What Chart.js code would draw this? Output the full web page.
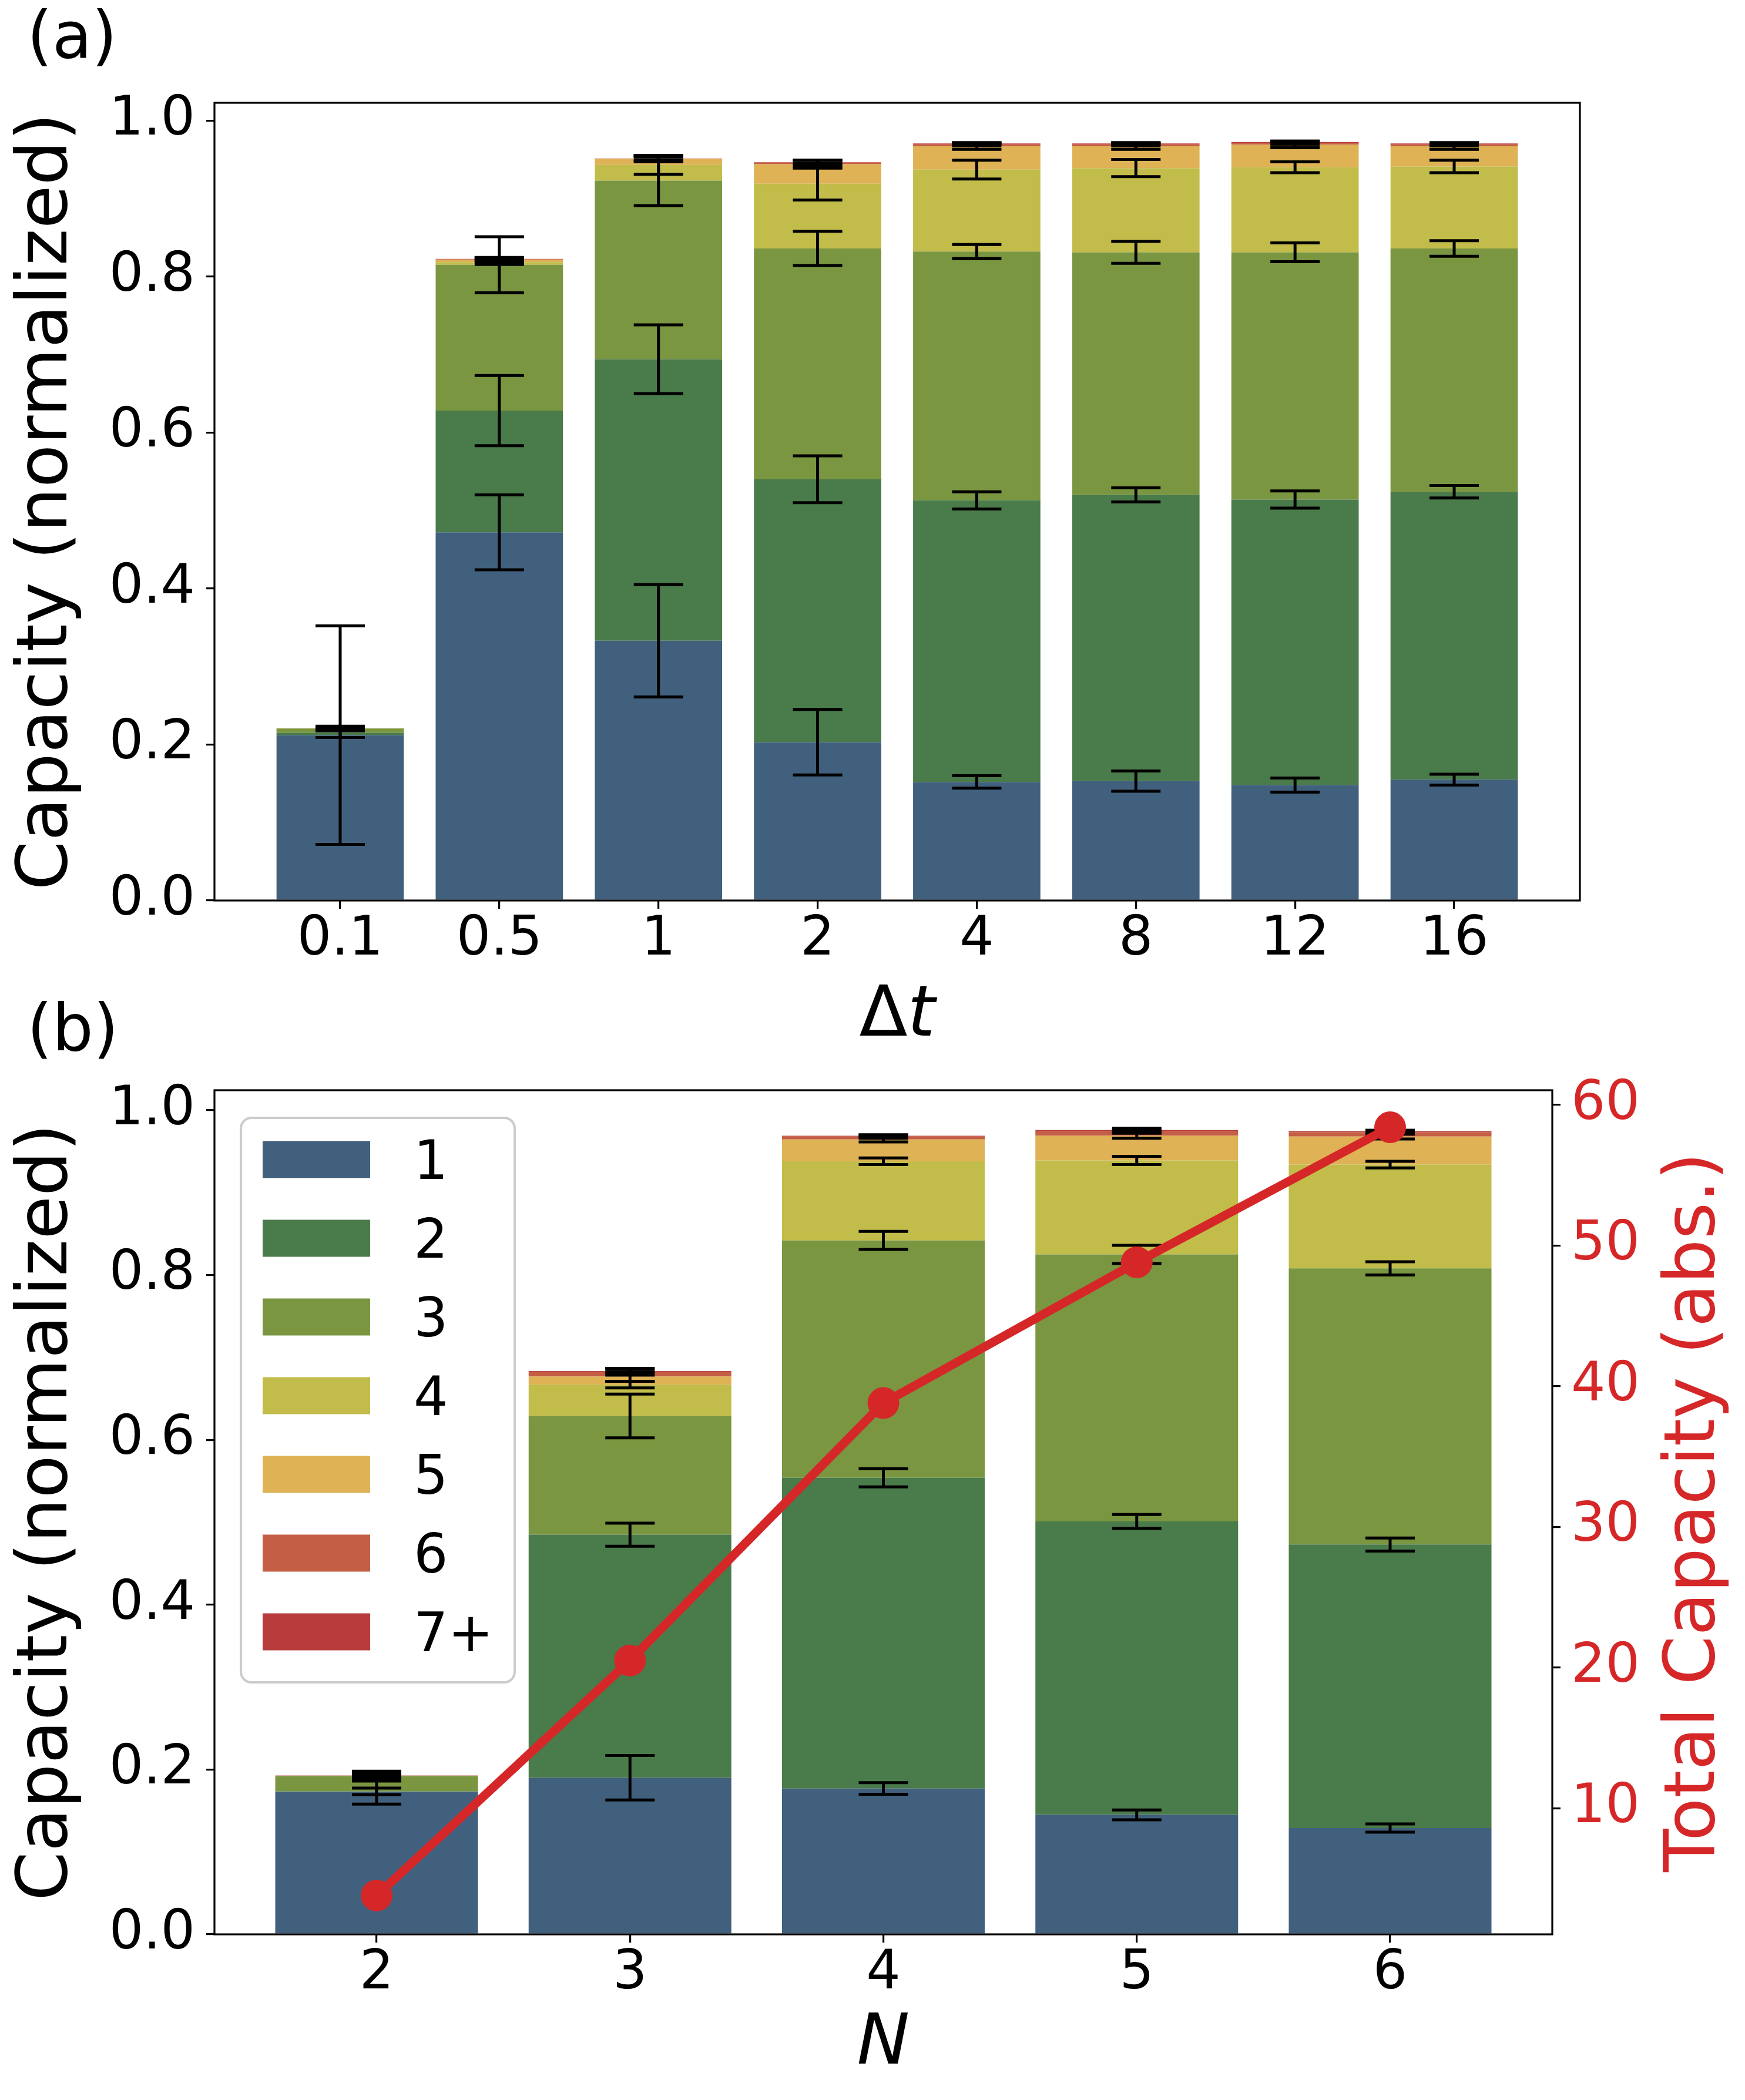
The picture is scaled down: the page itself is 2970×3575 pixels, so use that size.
<!DOCTYPE html>
<html><head><meta charset="utf-8">
<script src="https://cdn.jsdelivr.net/npm/chart.js@4.4.1/dist/chart.umd.min.js"></script>
<style>
html,body{margin:0;padding:0;background:#fff;}
body{width:2970px;height:3575px;position:relative;overflow:hidden;}
canvas{position:absolute;left:0;}
#c1{top:0;}
#c2{top:1640px;}
</style></head>
<body>
<canvas id="c1" width="2970" height="1790"></canvas>
<canvas id="c2" width="2970" height="1935"></canvas>
<script>
// ---------- DATA ----------
const dtLabels = ['0.1','0.5','1','2','4','8','12','16'];
const nLabels = ['2','3','4','5','6'];
const orderLabels = ['1','2','3','4','5','6','7+'];
const capTicks = [0, 0.2, 0.4, 0.6, 0.8, 1.0];
const totalTicks = [10, 20, 30, 40, 50, 60];

// panel (a): segment heights per order
const dtOrder1 = [0.212, 0.472, 0.333, 0.203, 0.152, 0.153, 0.148, 0.155];
const dtOrder2 = [0.003, 0.156, 0.361, 0.337, 0.361, 0.367, 0.366, 0.369];
const dtOrder3 = [0.0055, 0.187, 0.229, 0.296, 0.319, 0.311, 0.317, 0.312];
const dtOrder4 = [0.0002, 0.0035, 0.020, 0.083, 0.105, 0.108, 0.109, 0.105];
const dtOrder5 = [0.0002, 0.003, 0.008, 0.025, 0.030, 0.028, 0.029, 0.026];
const dtOrder6 = [0.0001, 0.0007, 0.0002, 0.0022, 0.0025, 0.0025, 0.0025, 0.0025];
const dtOrder7 = [0.0001, 0.0004, 0.0002, 0.0005, 0.001, 0.001, 0.001, 0.001];
// panel (a): error half-widths (at cumulative top of each order)
const dtErr1 = [0.140, 0.048, 0.072, 0.042, 0.008, 0.013, 0.009, 0.007];
const dtErr2 = [0.006, 0.045, 0.044, 0.030, 0.011, 0.009, 0.011, 0.008];
const dtErr3 = [0.003, 0.036, 0.032, 0.022, 0.009, 0.014, 0.012, 0.010];
const dtErr4 = [0.002, 0.003, 0.012, 0.021, 0.012, 0.011, 0.007, 0.008];
const dtErr5 = [0.001, 0.003, 0.004, 0.005, 0.004, 0.004, 0.004, 0.004];
const dtErr6 = [0.001, 0.002, 0.003, 0.003, 0.002, 0.002, 0.002, 0.002];
const dtErr7 = [0.0005, 0.001, 0.002, 0.002, 0.001, 0.001, 0.001, 0.001];

// panel (b): segment heights per order
const nOrder1 = [0.173, 0.190, 0.177, 0.145, 0.129];
const nOrder2 = [0.0005, 0.295, 0.377, 0.356, 0.344];
const nOrder3 = [0.0185, 0.144, 0.288, 0.324, 0.335];
const nOrder4 = [0.0002, 0.038, 0.096, 0.114, 0.126];
const nOrder5 = [0.0003, 0.010, 0.0265, 0.030, 0.034];
const nOrder6 = [0.0002, 0.0056, 0.0035, 0.0055, 0.0055];
const nOrder7 = [0.0001, 0.0009, 0.001, 0.0015, 0.001];
const nErr1 = [0.015, 0.027, 0.007, 0.006, 0.005];
const nErr2 = [0.004, 0.014, 0.011, 0.0085, 0.008];
const nErr3 = [0.006, 0.0265, 0.011, 0.011, 0.008];
const nErr4 = [0.003, 0.004, 0.004, 0.005, 0.004];
const nErr5 = [0.002, 0.006, 0.003, 0.003, 0.003];
const nErr6 = [0.001, 0.004, 0.002, 0.002, 0.002];
const nErr7 = [0.001, 0.003, 0.001, 0.002, 0.001];
// panel (b): total capacity (absolute, right axis)
const totalCapacity = [3.8, 20.5, 38.8, 48.8, 58.4];

// ---------- STYLE ----------
const FONT = 'DejaVu Sans';
const palette = ['#41607d', '#4a7b4a', '#7a9640', '#c2bc4a', '#deb255', '#c45e44', '#b83c3c'];
const RED = '#d62728';

const dtSeries = [dtOrder1, dtOrder2, dtOrder3, dtOrder4, dtOrder5, dtOrder6, dtOrder7];
const dtErrors = [dtErr1, dtErr2, dtErr3, dtErr4, dtErr5, dtErr6, dtErr7];
const nSeries = [nOrder1, nOrder2, nOrder3, nOrder4, nOrder5, nOrder6, nOrder7];
const nErrors = [nErr1, nErr2, nErr3, nErr4, nErr5, nErr6, nErr7];

function barSets(series, order) {
  return series.map((arr, k) => ({
    type: 'bar',
    label: orderLabels[k],
    data: arr.map((v, i) => ({x: i, y: v})),
    backgroundColor: palette[k],
    borderWidth: 0,
    barPercentage: 0.8,
    categoryPercentage: 1.0,
    order: order,
    yAxisID: 'y'
  }));
}

const errPlugin = {
  id: 'errbars',
  afterDatasetDraw(chart, args, opts) {
    if (args.index !== 0 || !opts.errors) return;
    const ctx = chart.ctx, ys = chart.scales.y, xs = chart.scales.x;
    const errs = opts.errors;
    ctx.save();
    ctx.strokeStyle = '#000';
    ctx.lineWidth = 5;
    ctx.lineCap = 'butt';
    const nCat = chart.data.datasets[0].data.length;
    for (let i = 0; i < nCat; i++) {
      let cum = 0;
      const x = xs.getPixelForValue(i);
      for (let d = 0; d < errs.length; d++) {
        cum += chart.data.datasets[d].data[i].y;
        const e = errs[d][i];
        const yT = ys.getPixelForValue(cum + e), yB = ys.getPixelForValue(cum - e);
        ctx.beginPath();
        ctx.moveTo(x, yT); ctx.lineTo(x, yB);
        ctx.moveTo(x - 42, yT); ctx.lineTo(x + 42, yT);
        ctx.moveTo(x - 42, yB); ctx.lineTo(x + 42, yB);
        ctx.stroke();
      }
    }
    ctx.restore();
  }
};

const decorPlugin = {
  id: 'decor',
  afterDraw(chart, args, o) {
    const ctx = chart.ctx, ca = chart.chartArea;
    ctx.save();
    // frame
    ctx.strokeStyle = '#000';
    ctx.lineWidth = 3.2;
    ctx.strokeRect(ca.left, ca.top, ca.right - ca.left, ca.bottom - ca.top);
    // panel letter
    ctx.fillStyle = '#000';
    ctx.font = '110px "' + FONT + '"';
    ctx.textAlign = 'left';
    ctx.textBaseline = 'alphabetic';
    ctx.fillText(o.panel, 46, o.panelY);
    // Δt title
    if (o.xTitleY) {
      const f1 = '120px "' + FONT + '"', f2 = 'italic 120px "' + FONT + '"';
      ctx.font = f1; const w1 = ctx.measureText('Δ').width;
      ctx.font = f2; const w2 = ctx.measureText('t').width;
      const cx = (ca.left + ca.right) / 2;
      let x0 = cx - (w1 + w2) / 2;
      ctx.font = f1; ctx.fillText('Δ', x0, o.xTitleY);
      ctx.font = f2; ctx.fillText('t', x0 + w1, o.xTitleY);
    }
    // right title
    if (o.rightTitle) {
      ctx.save();
      ctx.translate(o.rightTitleX, (ca.top + ca.bottom) / 2);
      ctx.rotate(-Math.PI / 2);
      ctx.font = '120px "' + FONT + '"';
      ctx.fillStyle = RED;
      ctx.textAlign = 'center';
      ctx.textBaseline = 'alphabetic';
      ctx.fillText(o.rightTitle, 0, 0);
      ctx.restore();
    }
    // legend
    if (o.legend) {
      const L = o.legend;
      ctx.fillStyle = 'rgba(255,255,255,0.8)';
      ctx.strokeStyle = '#cccccc';
      ctx.lineWidth = 4;
      ctx.beginPath();
      if (ctx.roundRect) ctx.roundRect(L.x, L.y, L.w, L.h, 18); else ctx.rect(L.x, L.y, L.w, L.h);
      ctx.fill(); ctx.stroke();
      const bars = chart.data.datasets.filter(d => d.type === 'bar');
      ctx.font = '92px "' + FONT + '"';
      ctx.textAlign = 'left';
      ctx.textBaseline = 'alphabetic';
      bars.forEach((ds, i) => {
        const cy = L.row0 + i * L.step;
        ctx.fillStyle = ds.backgroundColor;
        ctx.fillRect(L.x + 37, cy - 31.5, 183, 63);
        ctx.fillStyle = '#000';
        ctx.fillText(ds.label, L.x + 294, cy + 33);
      });
    }
    ctx.restore();
  }
};

const tickFont = {family: FONT, size: 92, lineHeight: 1};
const gridOpts = {display: true, offset: false, drawOnChartArea: false, drawTicks: true, tickLength: 14, color: '#000', lineWidth: 3.2};

// ---------- CHART (a) ----------
new Chart(document.getElementById('c1'), {
  type: 'bar',
  data: {datasets: barSets(dtSeries, 0)},
  options: {
    responsive: false, animation: false, devicePixelRatio: 1,
    layout: {padding: {left: 0, right: 281, top: 175, bottom: 0}},
    plugins: {
      legend: {display: false}, tooltip: {enabled: false},
      errbars: {errors: dtErrors},
      decor: {panel: '(a)', panelY: 98, xTitleY: 1763}
    },
    scales: {
      x: {
        type: 'linear', stacked: true, min: -0.79, max: 7.79, offset: false,
        afterBuildTicks: s => { s.ticks = dtLabels.map((_, i) => ({value: i})); },
        afterFit: s => { s.height = 257; },
        ticks: {callback: v => dtLabels[Math.round(v)], autoSkip: false, maxRotation: 0, minRotation: 0,
                font: tickFont, color: '#000', padding: 8},
        grid: gridOpts, border: {display: false}
      },
      y: {
        type: 'linear', stacked: true, min: 0, max: 1.0227,
        afterBuildTicks: s => { s.ticks = capTicks.map(v => ({value: v})); },
        afterFit: s => { s.width = 365; },
        ticks: {callback: v => Number(v).toFixed(1), font: tickFont, color: '#000', padding: 19},
        grid: gridOpts, border: {display: false},
        title: {display: true, text: 'Capacity (normalized)', color: '#000',
                font: {family: FONT, size: 120}, padding: {top: 10, bottom: 0}}
      }
    }
  },
  plugins: [errPlugin, decorPlugin]
});

// ---------- CHART (b) ----------
const nSets = barSets(nSeries, 1);
nSets.push({
  type: 'line', label: 'Total Capacity',
  data: totalCapacity.map((v, i) => ({x: i, y: v})),
  yAxisID: 'y2', order: 0,
  borderColor: RED, backgroundColor: RED, borderWidth: 15,
  pointRadius: 27, pointHoverRadius: 27, pointBorderWidth: 0, pointBackgroundColor: RED,
  tension: 0, fill: false, borderJoinStyle: 'round'
});

new Chart(document.getElementById('c2'), {
  type: 'bar',
  data: {datasets: nSets},
  options: {
    responsive: false, animation: false, devicePixelRatio: 1,
    layout: {padding: {left: 0, right: 0, top: 216, bottom: 0}},
    plugins: {
      legend: {display: false}, tooltip: {enabled: false},
      errbars: {errors: nErrors},
      decor: {panel: '(b)', panelY: 148, rightTitle: 'Total Capacity (abs.)', rightTitleX: 2917,
              legend: {x: 410, y: 263, w: 466, h: 961, row0: 334, step: 134}}
    },
    scales: {
      x: {
        type: 'linear', stacked: true, min: -0.64, max: 4.64, offset: false,
        afterBuildTicks: s => { s.ticks = nLabels.map((_, i) => ({value: i})); },
        afterFit: s => { s.height = 282; },
        ticks: {callback: v => nLabels[Math.round(v)], autoSkip: false, maxRotation: 0, minRotation: 0,
                font: tickFont, color: '#000', padding: 8},
        grid: gridOpts, border: {display: false},
        title: {display: true, text: 'N', color: '#000',
                font: {family: FONT, size: 120, style: 'italic'}, padding: {top: 0, bottom: 21}}
      },
      y: {
        type: 'linear', stacked: true, min: 0, max: 1.0242, position: 'left',
        afterBuildTicks: s => { s.ticks = capTicks.map(v => ({value: v})); },
        afterFit: s => { s.width = 365; },
        ticks: {callback: v => Number(v).toFixed(1), font: tickFont, color: '#000', padding: 19},
        grid: gridOpts, border: {display: false},
        title: {display: true, text: 'Capacity (normalized)', color: '#000',
                font: {family: FONT, size: 120}, padding: {top: 10, bottom: 0}}
      },
      y2: {
        type: 'linear', position: 'right', min: 1.04, max: 61.03,
        afterBuildTicks: s => { s.ticks = totalTicks.map(v => ({value: v})); },
        afterFit: s => { s.width = 328; },
        ticks: {callback: v => String(v), font: tickFont, color: RED, padding: 18},
        grid: gridOpts, border: {display: false}
      }
    }
  },
  plugins: [errPlugin, decorPlugin]
});
</script>
</body></html>
